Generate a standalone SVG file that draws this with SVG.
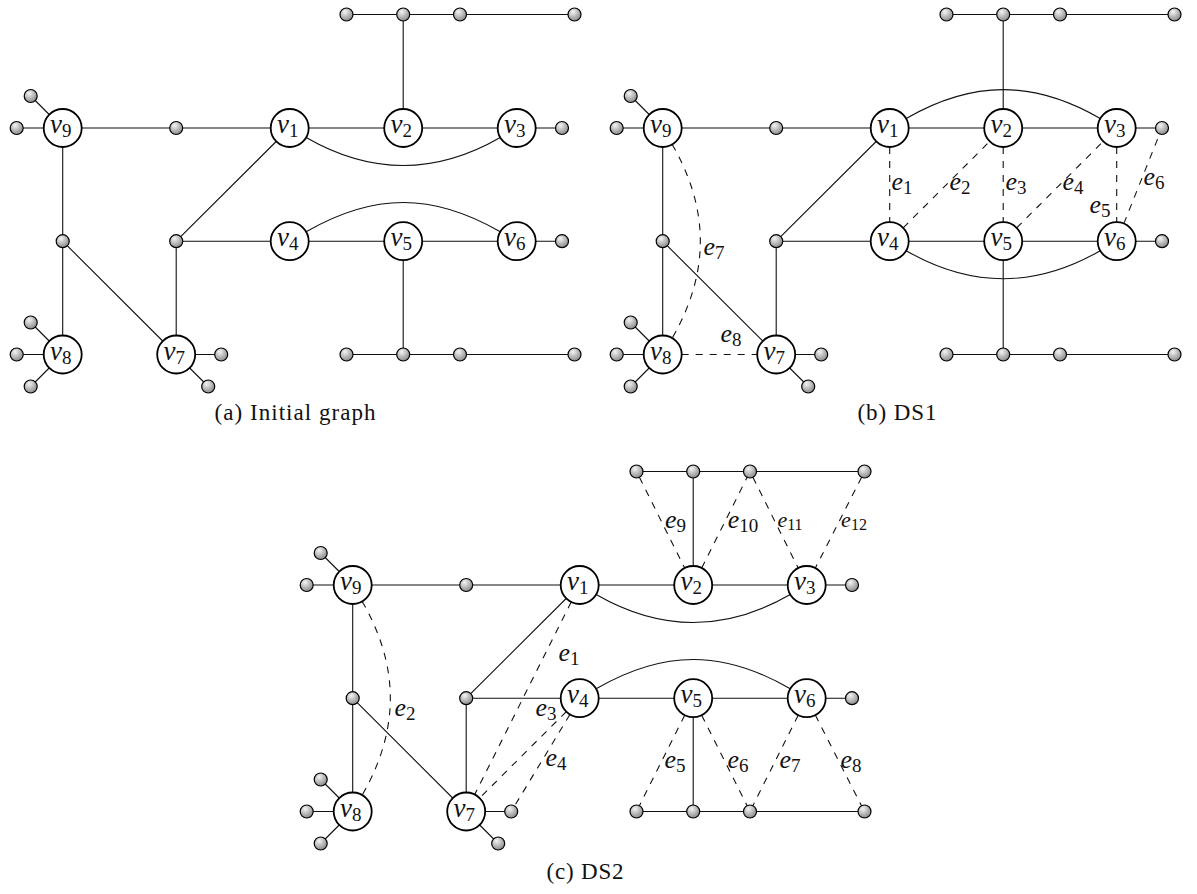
<svg xmlns="http://www.w3.org/2000/svg" width="1197" height="894" viewBox="0 0 1197 894">
<defs>
<style>
.e{stroke:#111;stroke-width:1.1;fill:none}
.d{stroke-dasharray:7 7}
.n circle{fill:#fff;stroke:#000;stroke-width:1.8}
.s{fill:url(#ball);stroke:#000;stroke-width:1.2}
text{font-family:"Liberation Serif","Times New Roman",serif;fill:#111}
.l{font-style:italic;font-size:27px;text-anchor:middle}
.el{font-style:italic;font-size:26px;text-anchor:middle}
.es{font-style:italic;font-size:22px;text-anchor:middle}
.sub{font-style:normal;font-size:19px}
.ssub{font-style:normal;font-size:16px}
.cap{font-size:23px;text-anchor:middle}
</style>
<radialGradient id="ball" cx="0.38" cy="0.3" r="0.75">
<stop offset="0" stop-color="#f4f4f4"/>
<stop offset="0.6" stop-color="#b0b0b0"/>
<stop offset="1" stop-color="#858585"/>
</radialGradient>
<path id="base" d="M16.7,128 H562 M30.7,96 L62.7,128 M346.5,14.5 H574.5 M403.2,14.5 V128 M289.7,128 L176.2,241.2 M176.2,241.2 H562 M176.2,241.2 V354.5 M62.7,128 V354.5 M62.7,241.2 L176.2,354.5 M30.7,322.5 L62.7,354.5 M16.7,354.5 H62.7 M30.7,386.5 L62.7,354.5 M176.2,354.5 H221.2 M176.2,354.5 L208.2,386.5 M403.2,241.2 V354.5 M346.5,354.5 H574.5"/>
<g id="smalls">
<circle class="s" cx="30.7" cy="96" r="6.5"/>
<circle class="s" cx="16.7" cy="128" r="6.5"/>
<circle class="s" cx="176.2" cy="128" r="6.5"/>
<circle class="s" cx="562" cy="128" r="6.5"/>
<circle class="s" cx="346.5" cy="14.5" r="6.5"/>
<circle class="s" cx="403.2" cy="14.5" r="6.5"/>
<circle class="s" cx="460" cy="14.5" r="6.5"/>
<circle class="s" cx="574.5" cy="14.5" r="6.5"/>
<circle class="s" cx="62.7" cy="241.2" r="6.5"/>
<circle class="s" cx="176.2" cy="241.2" r="6.5"/>
<circle class="s" cx="562" cy="241.2" r="6.5"/>
<circle class="s" cx="30.7" cy="322.5" r="6.5"/>
<circle class="s" cx="16.7" cy="354.5" r="6.5"/>
<circle class="s" cx="30.7" cy="386.5" r="6.5"/>
<circle class="s" cx="221.2" cy="354.5" r="6.5"/>
<circle class="s" cx="208.2" cy="386.5" r="6.5"/>
<circle class="s" cx="346.5" cy="354.5" r="6.5"/>
<circle class="s" cx="403.2" cy="354.5" r="6.5"/>
<circle class="s" cx="460" cy="354.5" r="6.5"/>
<circle class="s" cx="574.5" cy="354.5" r="6.5"/>
</g>
<g id="bigs">
<g class="n"><circle cx="289.7" cy="128" r="19"/><text class="l" x="287.7" y="133">v<tspan class="sub" dy="4">1</tspan></text></g>
<g class="n"><circle cx="403.2" cy="128" r="19"/><text class="l" x="401.2" y="133">v<tspan class="sub" dy="4">2</tspan></text></g>
<g class="n"><circle cx="516.7" cy="128" r="19"/><text class="l" x="514.7" y="133">v<tspan class="sub" dy="4">3</tspan></text></g>
<g class="n"><circle cx="289.7" cy="241.2" r="19"/><text class="l" x="287.7" y="246.2">v<tspan class="sub" dy="4">4</tspan></text></g>
<g class="n"><circle cx="403.2" cy="241.2" r="19"/><text class="l" x="401.2" y="246.2">v<tspan class="sub" dy="4">5</tspan></text></g>
<g class="n"><circle cx="516.7" cy="241.2" r="19"/><text class="l" x="514.7" y="246.2">v<tspan class="sub" dy="4">6</tspan></text></g>
<g class="n"><circle cx="176.2" cy="354.5" r="19"/><text class="l" x="174.2" y="359.5">v<tspan class="sub" dy="4">7</tspan></text></g>
<g class="n"><circle cx="62.7" cy="354.5" r="19"/><text class="l" x="60.7" y="359.5">v<tspan class="sub" dy="4">8</tspan></text></g>
<g class="n"><circle cx="62.7" cy="128" r="19"/><text class="l" x="60.7" y="133">v<tspan class="sub" dy="4">9</tspan></text></g>
</g>
</defs>

<!-- Panel (a) -->
<g id="panel-a">
<g id="a-connectors">
<use href="#base" class="e"/>
<path class="e" d="M306.15,137.5 C371.15,175 435.25,175 500.25,137.5"/>
<path class="e" d="M306.15,231.7 C373.65,192.7 432.75,192.7 500.25,231.7"/>
</g>
<g id="a-small-nodes"><use href="#smalls"/></g>
<g id="a-nodes"><use href="#bigs"/></g>
<text class="cap" x="295" y="420" textLength="161" lengthAdjust="spacing">(a) Initial graph</text>
</g>

<!-- Panel (b) -->
<g id="panel-b" transform="translate(600,0)">
<g id="b-connectors">
<use href="#base" class="e"/>
<path class="e" d="M306.15,118.5 C372.85,80 433.55,80 500.25,118.5"/>
<path class="e" d="M306.15,250.7 C371.15,288.2 435.25,288.2 500.25,250.7"/>
<path class="e d" d="M289.7,147 V222.2"/>
<path class="e d" d="M303.2,227.8 L389.7,141.4"/>
<path class="e d" d="M403.2,147 V222.2"/>
<path class="e d" d="M416.7,227.8 L503.2,141.4"/>
<path class="e d" d="M516.7,147 V222.2"/>
<path class="e d" d="M523.8,223.6 L559.6,134"/>
<path class="e d" d="M72.2,144.45 C109.7,209.4 109.7,273.1 72.2,338.05"/>
<path class="e d" d="M81.7,354.5 H157.2"/>
</g>
<g id="b-small-nodes"><use href="#smalls"/></g>
<g id="b-nodes"><use href="#bigs"/></g>
<g id="b-labels">
<text class="el" x="302" y="190">e<tspan class="sub" dy="4">1</tspan></text>
<text class="el" x="360" y="190">e<tspan class="sub" dy="4">2</tspan></text>
<text class="el" x="416" y="190">e<tspan class="sub" dy="4">3</tspan></text>
<text class="el" x="473" y="190">e<tspan class="sub" dy="4">4</tspan></text>
<text class="el" x="500" y="213">e<tspan class="sub" dy="4">5</tspan></text>
<text class="el" x="554" y="185">e<tspan class="sub" dy="4">6</tspan></text>
<text class="el" x="114" y="255">e<tspan class="sub" dy="4">7</tspan></text>
<text class="el" x="131" y="342">e<tspan class="sub" dy="4">8</tspan></text>
</g>
<text class="cap" x="297" y="420" textLength="79" lengthAdjust="spacing">(b) DS1</text>
</g>

<!-- Panel (c) -->
<g id="panel-c" transform="translate(290,457)">
<g id="c-connectors">
<use href="#base" class="e"/>
<path class="e" d="M306.15,137.5 C371.15,175 435.25,175 500.25,137.5"/>
<path class="e" d="M306.15,231.7 C373.65,192.7 432.75,192.7 500.25,231.7"/>
<path class="e d" d="M281.2,145 L184.7,337.5"/>
<path class="e d" d="M72.2,144.45 C109.7,209.4 109.7,273.1 72.2,338.05"/>
<path class="e d" d="M276.3,254.6 L189.6,341.1"/>
<path class="e d" d="M279.9,257.5 L224.6,348.9"/>
<path class="e d" d="M349.4,20.3 L394.7,111"/>
<path class="e d" d="M411.7,111 L457.1,20.3"/>
<path class="e d" d="M462.9,20.3 L508.2,111"/>
<path class="e d" d="M571.6,20.3 L525.3,111.1"/>
<path class="e d" d="M394.7,258.2 L349.4,348.7"/>
<path class="e d" d="M411.7,258.2 L457.1,348.7"/>
<path class="e d" d="M508.2,258.2 L462.9,348.7"/>
<path class="e d" d="M525.3,258.1 L571.5,348.7"/>
</g>
<g id="c-small-nodes"><use href="#smalls"/></g>
<g id="c-nodes"><use href="#bigs"/></g>
<g id="c-labels">
<text class="el" x="279" y="204">e<tspan class="sub" dy="4">1</tspan></text>
<text class="el" x="115" y="259">e<tspan class="sub" dy="4">2</tspan></text>
<text class="el" x="256" y="259">e<tspan class="sub" dy="4">3</tspan></text>
<text class="el" x="266" y="309">e<tspan class="sub" dy="4">4</tspan></text>
<text class="el" x="385" y="311">e<tspan class="sub" dy="4">5</tspan></text>
<text class="el" x="448" y="311">e<tspan class="sub" dy="4">6</tspan></text>
<text class="el" x="500" y="311">e<tspan class="sub" dy="4">7</tspan></text>
<text class="el" x="561" y="311">e<tspan class="sub" dy="4">8</tspan></text>
<text class="el" x="385.5" y="70.7">e<tspan class="sub" dy="4">9</tspan></text>
<text class="el" x="453" y="70.7">e<tspan class="sub" dy="4">10</tspan></text>
<text class="es" x="500" y="70">e<tspan class="ssub" dy="3">11</tspan></text>
<text class="es" x="564" y="70">e<tspan class="ssub" dy="3">12</tspan></text>
</g>
<text class="cap" x="295" y="422" textLength="77" lengthAdjust="spacing">(c) DS2</text>
</g>
</svg>
